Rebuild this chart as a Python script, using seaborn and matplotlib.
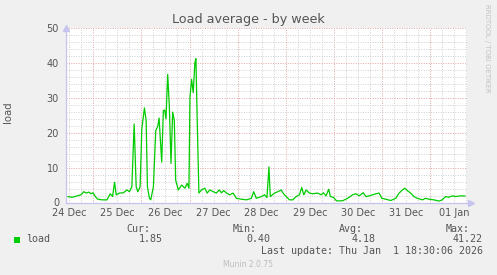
import matplotlib
matplotlib.use("Agg")
import matplotlib.pyplot as plt
from matplotlib.patches import Rectangle
from matplotlib.ticker import MultipleLocator
import pandas as pd
import seaborn as sns

# ---- data (days since 24 Dec 00:00, load average) ----
day_offset = [
    0.469, 0.559, 0.662, 0.745, 0.800, 0.855, 0.904, 0.952, 0.993, 1.042,
    1.090, 1.180, 1.283, 1.352, 1.401, 1.442, 1.476, 1.545, 1.628, 1.697,
    1.752, 1.801, 1.849, 1.891, 1.925, 1.973, 2.008, 2.063, 2.098, 2.125,
    2.167, 2.194, 2.249, 2.298, 2.339, 2.367, 2.387, 2.422, 2.456, 2.484,
    2.511, 2.546, 2.580, 2.615, 2.650, 2.684, 2.712, 2.767, 2.836, 2.905,
    2.953, 2.988, 3.009, 3.043, 3.077, 3.112, 3.133, 3.160, 3.195, 3.250,
    3.319, 3.367, 3.422, 3.492, 3.561, 3.616, 3.664, 3.712, 3.768, 3.837,
    3.906, 3.975, 4.078, 4.182, 4.285, 4.334, 4.389, 4.492, 4.561, 4.610,
    4.651, 4.679, 4.768, 4.837,
    4.907, 4.955, 5.010, 5.079, 5.148, 5.217, 5.286, 5.334, 5.376, 5.424,
    5.493, 5.562, 5.666, 5.735, 5.783, 5.838, 5.894, 5.928, 5.990, 6.059,
    6.183, 6.287, 6.390, 6.459, 6.528, 6.611, 6.666, 6.735, 6.805, 6.873,
    6.942, 6.998, 7.080, 7.184, 7.288, 7.357, 7.426, 7.474, 7.529, 7.598,
    7.667, 7.736, 7.840, 7.909, 7.978, 8.081, 8.185, 8.254, 8.323, 8.392,
    8.461, 8.540, 8.620, 8.730,
]
load = [
    1.7, 1.5, 1.9, 2.2, 3.1, 2.7, 3.0, 2.5, 2.8, 1.7,
    0.95, 0.76, 0.76, 2.5, 1.7, 5.8, 2.2, 2.7, 2.8, 3.6,
    3.1, 4.5, 22.5, 4.5, 3.1, 4.5, 21.1, 27.1, 23.5, 4.5,
    1.2, 0.76, 4.5, 20.6, 21.8, 24.2, 19.7, 11.6, 26.3, 26.5,
    24.0, 36.7, 27.7, 11.2, 25.9, 23.5, 6.4, 3.6, 5.0, 4.1,
    5.5, 4.1, 30.1, 35.3, 31.5, 40.1, 41.22, 23.5, 2.7, 3.6,
    4.1, 2.7, 3.6, 3.1, 2.7, 3.6, 2.8, 3.4, 2.7, 2.2,
    2.7, 1.2, 0.95, 0.76, 1.2, 3.1, 1.2, 1.7, 2.2, 1.4,
    10.2, 1.7, 2.7, 3.1,
    3.6, 2.5, 1.7, 0.76, 0.76, 1.7, 2.2, 4.3, 2.2, 3.6,
    2.7, 2.5, 2.7, 2.2, 2.8, 1.9, 3.8, 1.7, 1.5, 0.45,
    0.5, 1.2, 2.2, 2.5, 1.9, 2.8, 1.7, 1.9, 2.2, 2.5,
    2.7, 1.2, 0.95, 0.57, 1.2, 2.7, 3.6, 4.1, 3.4, 2.7,
    1.7, 1.2, 0.76, 1.2, 0.95, 0.76, 0.4, 0.76, 1.7, 1.5,
    1.9, 1.7, 1.9, 1.85,
]
day_labels = ["24 Dec", "25 Dec", "26 Dec", "27 Dec", "28 Dec",
              "29 Dec", "30 Dec", "31 Dec", "01 Jan"]
label_pos = [0.5, 1.5, 2.5, 3.5, 4.5, 5.5, 6.5, 7.5, 8.5]
stat_names = ["Cur:", "Min:", "Avg:", "Max:"]
stat_values = ["1.85", "0.40", "4.18", "41.22"]
series_name = "load"
title = "Load average - by week"
last_update = "Last update: Thu Jan  1 18:30:06 2026"

# ---- figure ----
W, H = 497, 275
BG = "#F0F0F0"
TXT = "#555555"
GREEN = "#00CC00"

sns.set_style("white")
plt.rcParams["font.family"] = ["DejaVu Sans"]

fig = plt.figure(figsize=(W / 100, H / 100), dpi=100, facecolor=BG)
L, R, T, B = 66, 467, 28, 202.5
ax = fig.add_axes([L / W, 1 - B / H, (R - L) / W, (B - T) / H])
ax.set_facecolor("white")

df = pd.DataFrame({"day": day_offset, "load": load})
sns.lineplot(data=df, x="day", y="load", ax=ax, color=GREEN,
             linewidth=0.9, zorder=3)

ax.set_xlim(0.432, 8.769)
ax.set_ylim(0, 50)
ax.set_xlabel("")
ax.set_ylabel("")

ax.xaxis.set_major_locator(MultipleLocator(1))
ax.xaxis.set_minor_locator(MultipleLocator(0.25))
ax.yaxis.set_major_locator(MultipleLocator(10))
ax.yaxis.set_minor_locator(MultipleLocator(2))
ax.set_axisbelow(True)
ax.grid(True, which="major", color="#E3A3A3", linestyle=(0, (1, 1.5)),
        linewidth=0.7)
ax.grid(True, which="minor", color="#CFCFCF", linestyle=(0, (1, 1.5)),
        linewidth=0.7)

ax.set_xticklabels([])
ax.tick_params(axis="x", which="both", length=0)
ax.tick_params(axis="y", which="both", length=0, labelsize=7,
               labelcolor=TXT, pad=5)

for s in ["top", "right"]:
    ax.spines[s].set_visible(False)
for s in ["left", "bottom"]:
    ax.spines[s].set_color("#C4C4EE")
    ax.spines[s].set_linewidth(0.9)

# axis arrows
ax.plot([0], [1.0], marker="^", color="#C4C4EE", markersize=4,
        transform=ax.transAxes, clip_on=False)
ax.plot([1.01], [0], marker=">", color="#C4C4EE", markersize=4,
        transform=ax.transAxes, clip_on=False)

# day labels centred on each day
xt = ax.get_xaxis_transform()
for p, lab in zip(label_pos, day_labels):
    ax.text(p, -(212.5 - B) / (B - T), lab, transform=xt, ha="center",
            va="center", fontsize=7, color=TXT)

# titles / side texts
fig.text(248 / W, 1 - 19 / H, title, ha="center", va="center",
         fontsize=9.2, color=TXT)
fig.text(7.5 / W, 1 - 112 / H, "load", rotation=90, ha="center",
         va="center", fontsize=7.3, color=TXT)
fig.text(487 / W, 1 - 4 / H, "RRDTOOL / TOBI OETIKER", rotation=270,
         ha="center", va="top", fontsize=5, color="#C2C2C2")

# legend block
mono = "DejaVu Sans Mono"
fig.patches.append(Rectangle((14 / W, 1 - 242.5 / H), 6 / W, 6 / H,
                             transform=fig.transFigure, facecolor=GREEN,
                             edgecolor="none"))
fig.text(26 / W, 1 - 239.5 / H, series_name, ha="left", va="center",
         fontsize=7.2, family=mono, color=TXT)
name_x = [150, 257, 363, 470]
val_x = [163, 270, 376, 483]
for nx, vx, n, v in zip(name_x, val_x, stat_names, stat_values):
    fig.text(nx / W, 1 - 228.5 / H, n, ha="right", va="center",
             fontsize=7.2, family=mono, color=TXT)
    fig.text(vx / W, 1 - 239.5 / H, v, ha="right", va="center",
             fontsize=7.2, family=mono, color=TXT)
fig.text(483 / W, 1 - 251.5 / H, last_update, ha="right", va="center",
         fontsize=7.2, family=mono, color=TXT)
fig.text(248 / W, 1 - 264.5 / H, "Munin 2.0.75", ha="center", va="center",
         fontsize=5.5, color="#BDBDBD")

fig.savefig("out.png", dpi=100, facecolor=BG)
